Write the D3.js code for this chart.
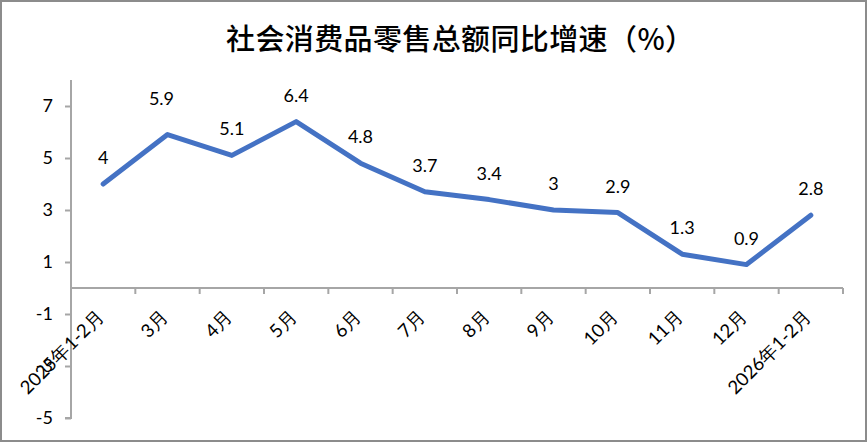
<!DOCTYPE html>
<html><head><meta charset="utf-8">
<script src="https://cdn.jsdelivr.net/npm/d3@7"></script>
<style>body{margin:0;background:#fff}svg{display:block}</style>
</head><body>
<svg id="c" width="867" height="443"></svg>
<script>
const title = "社会消费品零售总额同比增速（%）";
const categories = ["2025年1-2月","3月","4月","5月","6月","7月","8月","9月","10月","11月","12月","2026年1-2月"];
const values = [4, 5.9, 5.1, 6.4, 4.8, 3.7, 3.4, 3, 2.9, 1.3, 0.9, 2.8];
const yTicks = [-5, -3, -1, 1, 3, 5, 7];
const yDomain = [-5, 8];

(function(){
const svg = d3.select("#c");
const W = 867, H = 443;
const mLeft = 71, mRight = 843, mTop = 80, mBottom = 418;
const axisColor = "#a6a6a6";
const numFont = "Lato, 'Open Sans', 'Liberation Sans', sans-serif";

svg.append("rect").attr("x",1).attr("y",1).attr("width",W-2).attr("height",H-3)
  .attr("fill","#fff").attr("stroke","#8c8c8c").attr("stroke-width",2);

svg.append("text").attr("x",460).attr("y",50).attr("text-anchor","middle")
  .attr("font-family","'Noto Sans CJK SC', sans-serif").attr("font-weight",500)
  .attr("font-size",29).attr("fill","#000")
  .attr("textLength",468).attr("lengthAdjust","spacing").text(title);

const x = d3.scaleBand().domain(categories).range([mLeft, mRight]);
const y = d3.scaleLinear().domain(yDomain).range([mBottom, mTop]);

// y axis
const yAxis = d3.axisLeft(y).tickValues(yTicks).tickSize(6).tickPadding(12).tickFormat(d => String(d));
const gy = svg.append("g").attr("transform",`translate(${mLeft},0)`).call(yAxis);
gy.select(".domain").attr("stroke",axisColor).attr("stroke-width",2).attr("d",`M-6,${mBottom}H0V${mTop}`);
gy.selectAll(".tick line").attr("stroke",axisColor).attr("stroke-width",2);
gy.selectAll(".tick text").attr("font-family",numFont).attr("font-size",18).attr("fill","#000");

// x axis at zero
const y0 = Math.round(y(0));
const gx = svg.append("g").attr("transform",`translate(0,${y0})`);
gx.append("line").attr("x1",mLeft).attr("x2",mRight).attr("y1",0).attr("y2",0)
  .attr("stroke",axisColor).attr("stroke-width",2);
const bounds = categories.map(c => x(c)).concat([mRight]);
gx.selectAll("line.tk").data(bounds).join("line").attr("class","tk")
  .attr("x1",d=>d).attr("x2",d=>d).attr("y1",0).attr("y2",6)
  .attr("stroke",axisColor).attr("stroke-width",2);
gx.selectAll("text").data(categories).join("text")
  .attr("transform",d=>`translate(${x(d)+x.bandwidth()/2-3},${25}) rotate(-45)`)
  .attr("text-anchor","end").attr("dominant-baseline","central")
  .attr("font-family",numFont).attr("font-size",18.5).attr("fill","#000")
  .text(d=>d);

// line
const pts = categories.map((c,i)=>({c, v: values[i]}));
svg.append("path").datum(pts)
  .attr("d", d3.line().x(d=>x(d.c)+x.bandwidth()/2).y(d=>y(d.v)))
  .attr("fill","none").attr("stroke","#4472C4").attr("stroke-width",5)
  .attr("stroke-linejoin","round").attr("stroke-linecap","round");

// data labels
svg.selectAll("text.lbl").data(pts).join("text").attr("class","lbl")
  .attr("x",(d,i)=>x(d.c)+x.bandwidth()/2 - (i===1?6:0))
  .attr("y",(d,i)=>y(d.v) - (i===1?30:20))
  .attr("text-anchor","middle").attr("font-family",numFont).attr("font-size",18).attr("fill","#000")
  .text(d=>d.v);
})();
</script>
</body></html>
